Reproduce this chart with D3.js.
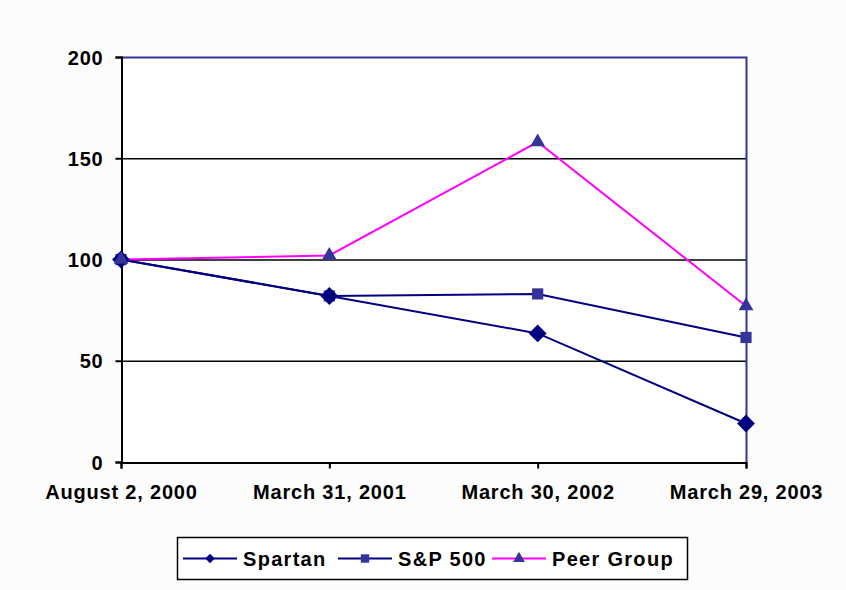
<!DOCTYPE html>
<html>
<head>
<meta charset="utf-8">
<script src="https://cdn.jsdelivr.net/npm/d3@7"></script>
<style>
  body { margin: 0; background: #fcfcfc; }
  svg { display: block; font-family: Arial, "Liberation Sans", sans-serif; }
</style>
</head>
<body>
<svg width="846" height="590"></svg>
<script>
// chart data
var dates = ["August 2, 2000", "March 31, 2001", "March 30, 2002", "March 29, 2003"];
var spartan = [100, 82, 63.5, 19];
var sp500 = [100, 82, 83, 61.5];
var peerGroup = [100, 102, 158, 77];
var yTicks = [0, 50, 100, 150, 200];

var series = [
    { name: "Spartan", values: spartan, line: "#000080", marker: "#000080", shape: d3.symbolSquare, rot: 45, size: 160, lsize: 45 },
    { name: "S&P 500", values: sp500, line: "#000080", marker: "#333399", shape: d3.symbolSquare, rot: 0, size: 125, lsize: 70 },
    { name: "Peer Group", values: peerGroup, line: "#ff00ff", marker: "#333399", shape: d3.symbolTriangle, rot: 0, size: 95, lsize: 60 }
];

var svg = d3.select("svg");
var pLeft = 121, pRight = 746, pTop = 57, pBottom = 462;

var x = d3.scalePoint().domain(dates).range([pLeft, pRight]).padding(0);
var y = d3.scaleLinear().domain([0, 200]).range([pBottom, pTop]);

// plot area
svg.append("rect")
    .attr("x", pLeft).attr("y", pTop)
    .attr("width", pRight - pLeft).attr("height", pBottom - pTop)
    .attr("fill", "#ffffff");

// gridlines
svg.append("g").selectAll("line")
    .data([50, 100, 150])
    .enter().append("line")
    .attr("x1", pLeft).attr("x2", pRight)
    .attr("y1", function (d) { return y(d) + 0.5; })
    .attr("y2", function (d) { return y(d) + 0.5; })
    .attr("stroke", "#000").attr("stroke-width", 1.5);

// top and right border
svg.append("path")
    .attr("d", "M" + pLeft + "," + (pTop + 0.5) + "H" + (pRight + 0.5) + "V" + pBottom)
    .attr("fill", "none").attr("stroke", "#333399").attr("stroke-width", 2);

// axes
var yAxis = svg.append("g")
    .attr("transform", "translate(" + (pLeft + 0.5) + ",0)")
    .call(d3.axisLeft(y).tickValues(yTicks).tickSize(6).tickPadding(12));
var xAxis = svg.append("g")
    .attr("transform", "translate(0," + (pBottom + 0.5) + ")")
    .call(d3.axisBottom(x).tickSize(6).tickPadding(16));

[yAxis, xAxis].forEach(function (g) {
    g.select(".domain").attr("stroke", "#000").attr("stroke-width", 2);
    g.selectAll(".tick line").attr("stroke", "#000").attr("stroke-width", 2);
    g.selectAll("text")
        .attr("fill", "#000")
        .style("font-size", "20px")
        .style("font-weight", "bold")
        .style("letter-spacing", "0.8px")
        .style("font-family", "Arial, 'Liberation Sans', sans-serif");
});
yAxis.selectAll("text").attr("dy", "0.35em");

// lines
var line = d3.line()
    .x(function (d, i) { return x(dates[i]); })
    .y(function (d) { return y(d); });

series.forEach(function (s) {
    svg.append("path")
        .datum(s.values)
        .attr("d", line)
        .attr("fill", "none")
        .attr("stroke", s.line)
        .attr("stroke-width", 2);
});

// markers (squares first so the diamonds stay visible where they meet)
[series[1], series[0], series[2]].forEach(function (s) {
    svg.append("g").selectAll("path")
        .data(s.values)
        .enter().append("path")
        .attr("d", d3.symbol().type(s.shape).size(s.size))
        .attr("transform", function (d, i) {
            return "translate(" + x(dates[i]) + "," + y(d) + ") rotate(" + s.rot + ")";
        })
        .attr("fill", s.marker);
});

// legend
var legend = svg.append("g");
legend.append("rect")
    .attr("x", 177.5).attr("y", 537.5)
    .attr("width", 510).attr("height", 42)
    .attr("fill", "#fff").attr("stroke", "#000").attr("stroke-width", 1.5);

var legendX = [183, 338, 492];
series.forEach(function (s, i) {
    var lx = legendX[i], ly = 558.5;
    legend.append("line")
        .attr("x1", lx).attr("x2", lx + 54)
        .attr("y1", ly).attr("y2", ly)
        .attr("stroke", s.line).attr("stroke-width", 2);
    legend.append("path")
        .attr("d", d3.symbol().type(s.shape).size(s.lsize))
        .attr("transform", "translate(" + (lx + 27) + "," + ly + ") rotate(" + s.rot + ")")
        .attr("fill", s.marker);
    legend.append("text")
        .attr("x", lx + 60).attr("y", ly)
        .attr("dy", "0.35em")
        .style("font-size", "20px")
        .style("font-weight", "bold")
        .style("letter-spacing", "1.3px")
        .text(s.name);
});
</script>
</body>
</html>
